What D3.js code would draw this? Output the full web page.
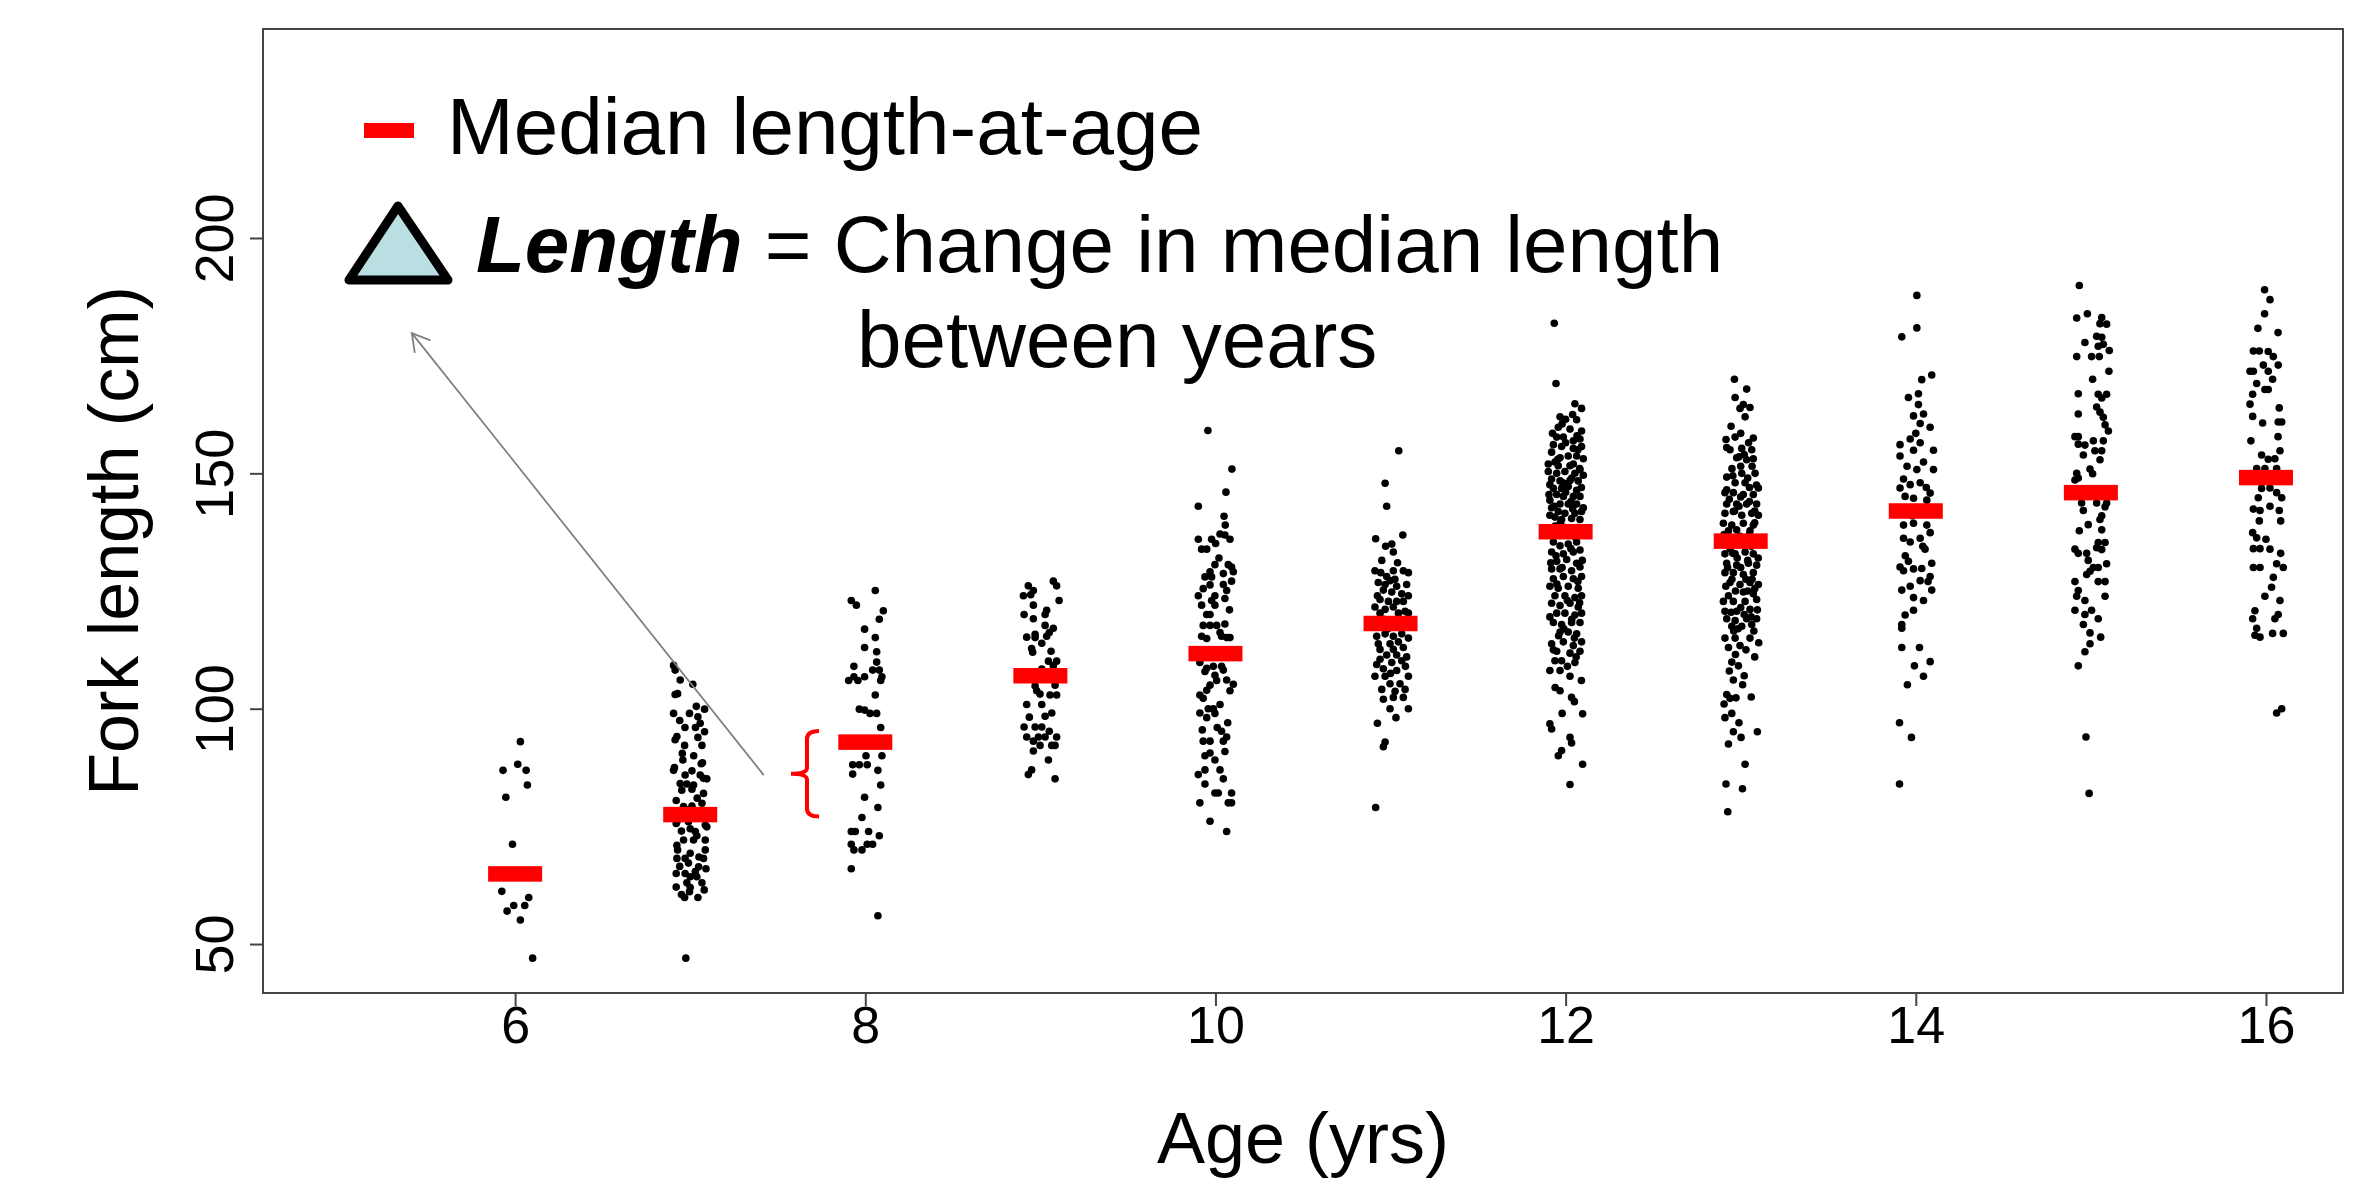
<!DOCTYPE html>
<html>
<head>
<meta charset="utf-8">
<script src="https://cdn.jsdelivr.net/npm/d3@7"></script>
<style>
  html, body { margin: 0; padding: 0; background: #fff; }
  svg { display: block; font-family: "Liberation Sans", Arial, sans-serif; }
</style>
</head>
<body>
<div id="chart"></div>
<script>
// ages and median fork length at each age (cm)
const ages = [6, 7, 8, 9, 10, 11, 12, 13, 14, 15, 16];
const medians = [64.9, 77.5, 92.9, 107.0, 111.7, 118.1, 137.6, 135.6, 142.0, 145.9, 149.1];

// individual fish: [jitter offset (yrs), fork length (cm)]
const pts6 = [[0.03,93.0],[-0.069,86.9],[0.015,88.2],[0.063,86.9],[0.07,83.8],[-0.053,81.2],[-0.015,71.2],[-0.076,61.2],[0.078,59.9],[-0.008,58.2],[0.055,58.2],[-0.046,57.0],[0.03,55.1],[0.10,47.0]];
const pts7 = [[-0.095,109.2],[-0.086,108.2],[-0.057,106.1],[0.015,105.2],[-0.086,103.0],[-0.072,103.2],[-0.095,99.0],[-0.004,99.0],[0.082,99.9],[0.044,98.3],[0.057,96.9],[0.082,95.1],[-0.086,93.4],[-0.076,94.1],[-0.032,92.2],[0.044,93.9],[0.067,92.2],[-0.042,89.1],[0.063,88.3],[-0.095,86.9],[-0.029,85.9],[0.01,86.8],[0.057,85.9],[0.076,85.2],[0.095,85.1],[-0.057,84.1],[-0.019,84.0],[0.019,83.8],[-0.048,82.7],[0.01,82.9],[0.076,82.0],[-0.038,79.2],[0.01,79.3],[0.067,79.9],[-0.076,76.0],[-0.01,76.0],[0.086,75.3],[-0.08,75.6],[0.095,74.9],[0.029,73.9],[0.038,73.0],[-0.038,72.1],[0.019,72.1],[0.086,72.1],[-0.076,71.0],[-0.072,70.0],[0,69.3],[0.086,70.0],[0.076,68.2],[-0.029,68.2],[-0.076,68.2],[-0.01,67.2],[0.048,66.4],[0.029,65.4],[-0.029,65.0],[-0.08,65.0],[0,64.3],[0.038,64.3],[-0.019,63.0],[0.067,63.0],[-0.08,62.1],[-0.004,61.1],[-0.032,59.9],[0.044,59.9],[-0.025,47.0],
  [-0.06,97.5],[0.03,96.0],[-0.045,90.5],[0.02,90.0],[0.07,88.5],[-0.08,80.5],[0.04,81.0],[-0.02,78.5],[0.06,77.0],[-0.05,74.0],[0.0,74.5],[0.05,68.5],[-0.06,66.5],[0.09,66.0],[0.0,62.0],[-0.05,60.5],[0.08,61.5],[-0.09,87.5],[0.035,100.5],[-0.03,96.0]];
const pts8 = [[0.057,125.1],[-0.08,123.0],[-0.051,122.0],[0.103,120.8],[0.08,119.0],[-0.004,116.9],[0.057,115.1],[-0.004,113.0],[0.065,112.1],[0.065,109.9],[-0.065,109.0],[0.042,108.2],[0.08,108.2],[0.095,106.8],[0.088,106.0],[-0.095,106.0],[-0.065,106.8],[-0.042,106.0],[-0.004,106.8],[0.057,102.9],[-0.034,99.9],[-0.004,99.7],[0.027,99.0],[0.065,99.0],[0.088,96.0],[-0.095,93.0],[0.086,93.4],[0.004,90.0],[0.095,90.0],[-0.072,88.1],[-0.034,88.1],[0.011,88.1],[-0.072,86.1],[0.072,86.9],[0.088,83.8],[-0.004,81.2],[0.072,79.0],[-0.019,76.9],[-0.08,73.9],[-0.057,73.9],[0.019,73.9],[0.08,73.0],[-0.08,71.2],[-0.065,70.0],[-0.019,70.0],[0.011,71.2],[0.042,71.2],[-0.08,66.0],[0.072,56.0]];
const pts9 = [[0.074,127.1],[0.093,126.1],[-0.069,126.1],[-0.04,125.1],[-0.097,124.0],[-0.055,124.2],[0.107,123.0],[-0.04,122.0],[0.036,120.9],[-0.093,120.0],[0.027,120.0],[-0.04,119.1],[0.027,117.7],[0.074,117.1],[0.051,116.2],[-0.078,115.2],[-0.03,115.8],[-0.03,115.1],[0.036,115.4],[0.008,113.9],[-0.05,112.8],[-0.044,112.0],[0.061,112.2],[0.046,110.1],[0.093,110.1],[0.074,109.1],[0.008,108.4],[-0.059,106.7],[0.074,107.1],[-0.03,104.8],[-0.021,103.8],[0.084,105.0],[-0.002,103.1],[0.055,102.9],[0.093,102.9],[-0.078,100.9],[0.008,100.9],[0.065,99.1],[0.027,98.4],[-0.063,98.2],[-0.093,96.1],[-0.03,96.1],[0.008,96.1],[0.051,95.2],[-0.078,94.0],[-0.011,94.0],[0.027,94.0],[0.093,94.0],[-0.04,93.1],[-0.002,92.2],[0.065,92.2],[0.084,92.2],[-0.04,91.0],[0.046,89.1],[-0.05,87.0],[-0.069,86.0],[0.084,85.1]];
const pts10 = [[-0.043,159.1],[0.094,150.9],[0.06,146.0],[-0.098,143.0],[0.049,140.9],[0.056,139.0],[-0.098,136.0],[-0.022,136.0],[0.001,135.1],[0.026,137.1],[0.054,136.9],[0.083,136.0],[-0.079,133.9],[-0.05,133.9],[-0.003,130.6],[0.073,130.6],[0.092,130.1],[-0.031,129.1],[0.045,128.7],[-0.06,128.0],[-0.022,128.0],[0.102,129.1],[0.092,127.1],[0.045,126.4],[-0.031,126.3],[0.064,125.1],[-0.098,124.0],[-0.003,124.0],[-0.022,123.0],[0.054,123.4],[-0.079,122.0],[-0.003,122.0],[-0.05,120.0],[-0.031,120.0],[0.054,118.0],[-0.07,117.7],[-0.031,117.7],[0.007,117.7],[0.026,116.2],[0.083,115.1],[-0.079,115.4],[-0.05,114.9],[0.035,115.4],[0.064,115.1],[-0.089,112.0],[0.092,111.3],[-0.089,109.8],[-0.05,108.6],[-0.012,109.0],[0.035,109.0],[-0.06,107.9],[-0.003,107.1],[0.045,108.2],[0.007,106.0],[0.064,106.1],[-0.031,105.0],[0.102,105.2],[0.083,103.8],[-0.089,102.9],[-0.07,102.2],[-0.05,103.9],[-0.041,100.0],[-0.012,100.0],[0.026,100.9],[-0.089,99.1],[-0.05,98.1],[-0.003,99.0],[0.035,95.2],[0.064,94.0],[-0.07,93.1],[-0.031,93.1],[0.045,93.1],[-0.031,90.6],[-0.06,90.0],[-0.003,89.1],[0.054,90.9],[-0.098,86.0],[-0.06,87.0],[0.026,87.0],[0.045,85.1],[-0.06,84.0],[-0.003,82.1],[0.016,82.1],[0.092,82.1],[-0.089,80.0],[0.073,80.0],[0.092,80.0],[-0.031,76.1],[0.064,73.9],
  [0.02,132.0],[-0.07,125.5],[0.08,121.0],[0.03,111.5],[-0.04,111.0],[0.07,97.0],[-0.075,95.5],[0.01,96.0]];
const pts11 = [[0.047,154.8],[-0.031,147.9],[-0.022,143.0],[-0.085,136.1],[0.07,136.9],[-0.028,134.5],[0.007,135.0],[0.016,133.3],[-0.089,129.3],[-0.056,128.9],[-0.022,128.1],[0.016,129.3],[0.073,129.3],[0.102,128.9],[-0.07,126.8],[-0.031,126.4],[-0.003,127.2],[0.035,126.0],[0.092,126.4],[-0.041,125.2],[0.007,124.8],[0.064,124.4],[0.102,124.0],[-0.06,123.2],[-0.012,122.8],[0.035,122.8],[0.073,122.8],[-0.089,121.6],[-0.031,121.1],[0.016,121.6],[0.083,120.7],[-0.06,120.3],[0.045,120.3],[0.102,120.3],[-0.07,118.3],[0.083,117.9],[-0.079,115.4],[-0.031,115.9],[0.016,115.4],[0.064,115.9],[0.102,115.0],[-0.07,113.8],[-0.003,113.8],[0.045,114.2],[-0.06,112.6],[0.016,112.6],[0.073,113.0],[-0.022,111.4],[0.035,111.4],[0.092,111.0],[-0.079,109.4],[0.007,109.8],[0.064,110.2],[-0.041,108.5],[-0.089,106.9],[-0.031,106.9],[0.035,108.1],[0.102,106.9],[-0.003,105.3],[0.054,105.3],[-0.05,104.1],[0.026,103.7],[0.083,104.1],[-0.041,102.0],[0.016,102.4],[0.073,102.4],[-0.003,100.0],[0.102,100.0],[0.031,98.1],[-0.075,96.9],[-0.031,92.9],[-0.041,91.9],[-0.085,79.0],
  [-0.05,131.5],[0.04,131.0],[-0.075,124.0],[0.055,118.5],[-0.015,117.0],[0.085,109.0],[-0.06,110.5],[0.0,107.5],[0.025,127.5],[-0.04,119.0]];
const pts12 = [[-0.065,181.9],[-0.055,169.1],[0.053,164.8],[0.091,163.8],[-0.032,162.0],[0.063,161.4],[-0.042,159.8],[0.025,159.4],[0.091,159.0],[-0.051,157.7],[-0.013,157.7],[0.044,156.9],[0.082,157.3],[-0.07,156.1],[-0.023,155.7],[0.044,155.3],[0.091,155.7],[-0.08,154.5],[-0.032,153.3],[0.015,153.7],[0.063,153.7],[0.101,153.1],[-0.099,152.0],[-0.042,151.6],[0.025,151.6],[0.082,150.8],[-0.099,150.4],[-0.051,150.0],[-0.004,150.4],[0.053,150.0],[0.101,149.6],[-0.08,148.8],[-0.032,148.4],[0.025,148.5],[0.072,148.4],[-0.07,146.8],[-0.023,146.8],[0.015,147.2],[0.063,146.4],[-0.051,145.5],[-0.013,145.1],[0.044,145.1],[0.082,145.1],[-0.09,144.3],[-0.032,143.5],[0.015,143.5],[0.063,143.5],[0.101,142.7],[-0.08,142.7],[-0.042,141.9],[-0.004,141.5],[0.053,141.5],[0.091,141.9],[-0.061,140.7],[-0.023,140.2],[0.034,140.4],[0.082,140.2],[-0.09,141.1],[-0.061,152.4],[0.044,152.0],[0.006,147.6],[-0.09,147.6],[0.03,144.0],[-0.06,138.8],[0.07,138.5],[0.0,146.0],[0.08,151.0],[-0.02,160.5],[0.04,162.5],[-0.08,137.8],[0.082,137.4],[-0.013,138.6],[-0.07,135.4],[-0.032,134.6],[0.015,135.0],[0.063,135.4],[-0.08,133.3],[-0.013,132.9],[0.044,133.3],[0.082,133.7],[-0.051,131.3],[0.006,131.7],[0.063,130.9],[-0.08,129.7],[-0.032,129.7],[0.034,129.3],[0.082,130.1],[-0.07,127.6],[-0.013,128.1],[0.044,127.6],[0.091,128.1],[-0.09,126.0],[-0.042,125.6],[0.015,126.0],[0.072,125.6],[-0.061,124.0],[-0.004,124.0],[0.053,123.6],[0.091,124.0],[-0.08,122.4],[-0.032,121.9],[0.025,122.4],[0.072,121.6],[-0.051,120.3],[-0.004,120.3],[0.053,119.9],[0.091,120.3],[-0.07,118.3],[-0.023,117.9],[0.034,118.3],[0.082,118.3],[-0.032,116.3],[0.015,116.3],[0.063,115.9],[-0.08,113.8],[-0.013,114.2],[0.044,113.4],[0.091,114.2],[-0.051,112.2],[0.025,111.8],[0.082,112.2],[-0.061,110.2],[-0.023,110.2],[0.053,109.8],[-0.09,108.1],[-0.032,108.1],[0.025,106.9],[-0.032,103.8],[0.034,102.4],[0.097,98.9],[-0.09,96.8],[-0.08,95.7],[0.025,93.9],[0.034,92.7],[-0.023,91.1],[-0.042,90.0],[0.097,88.2],[0.025,83.9],
  [-0.075,158.5],[0.0,156.5],[0.07,155.0],[-0.045,153.0],[0.035,149.0],[-0.015,148.0],[0.09,147.0],[-0.065,143.0],[0.04,142.5],[-0.03,139.5],[0.055,136.5],[-0.085,131.0],[0.03,134.0],[-0.02,130.0],[0.07,127.0],[-0.05,126.5],[0.01,123.0],[0.08,122.5],[-0.09,119.5],[0.035,119.0],[-0.04,115.5],[0.06,111.0],[-0.07,112.5],[0.01,109.0],[0.09,106.0],[-0.06,104.5],[0.05,101.5],[-0.02,99.0],[0.0,161.5],[0.065,158.0],[-0.095,145.5],[0.02,138.0],[-0.055,132.5],[0.095,131.5],[-0.01,117.0],[0.05,115.0]];
const pts13 = [[-0.036,170.0],[0.034,167.9],[-0.032,166.1],[0.015,164.6],[0.053,164.0],[-0.004,163.8],[0.025,162.0],[-0.084,157.2],[-0.032,157.7],[0.072,157.5],[-0.061,155.0],[0.006,155.3],[0.063,155.0],[-0.023,153.3],[0.034,152.9],[0.072,153.1],[-0.08,149.2],[0.006,150.0],[0.082,150.0],[-0.032,148.0],[0.025,148.0],[0.101,146.9],[-0.09,145.9],[-0.042,145.9],[0.015,145.5],[0.072,145.5],[-0.08,143.5],[-0.023,143.5],[0.034,143.5],[0.091,143.5],[-0.09,141.5],[-0.042,141.9],[0.006,141.1],[0.063,141.5],[0.101,141.1],[-0.099,139.4],[-0.051,139.0],[0.015,139.4],[0.072,139.0],[-0.07,137.8],[-0.023,138.0],[0.053,137.8],[-0.09,135.8],[0.091,135.4],[-0.004,136.6],[0.0,151.5],[-0.05,151.0],[0.05,147.0],[-0.01,143.0],[0.08,139.5],[-0.06,134.0],[0.04,131.5],[-0.05,127.5],[0.08,125.5],[-0.07,124.0],[0.0,121.5],[0.06,119.5],[-0.04,116.5],[0.02,154.0],[-0.08,146.5],[0.05,137.0],[-0.02,132.0],[0.03,127.5],[-0.09,132.9],[-0.032,132.9],[0.025,133.3],[0.072,132.9],[-0.08,130.9],[-0.023,130.5],[0.044,130.9],[0.091,130.5],[-0.09,128.9],[-0.042,128.9],[0.015,128.5],[0.072,128.9],[-0.061,126.8],[-0.004,126.4],[0.053,126.8],[0.101,126.4],[0.015,124.8],[0.072,124.4],[-0.099,122.8],[-0.042,122.8],[0.025,122.8],[0.091,123.2],[-0.09,120.7],[-0.023,120.7],[0.053,121.1],[-0.08,119.1],[-0.032,118.7],[0.034,119.1],[0.091,119.1],[-0.051,117.5],[0.006,117.5],[0.063,117.9],[-0.09,115.0],[-0.032,115.0],[0.053,115.0],[-0.004,113.4],[0.103,114.0],[-0.051,109.9],[-0.013,109.1],[-0.042,106.1],[0.011,105.1],[-0.08,103.0],[-0.027,102.3],[-0.095,101.0],[-0.061,102.2],[-0.051,99.0],[-0.09,98.1],[-0.042,95.1],[0.002,93.9],[0.095,95.1],[0.025,88.2],[-0.084,84.0],[0.01,83.0],[-0.074,78.1],
  [-0.08,155.5],[-0.01,153.5],[0.065,151.5],[-0.045,149.5],[0.04,149.0],[0.09,147.5],[-0.065,144.5],[0.0,145.0],[0.05,144.0],[-0.035,142.0],[0.08,142.0],[-0.095,137.0],[0.025,136.0],[-0.045,133.0],[0.06,134.5],[0.1,132.0],[-0.075,130.0],[0.0,130.0],[0.065,127.5],[-0.03,125.0],[0.04,125.0],[-0.085,126.0],[0.095,121.0],[-0.055,120.5],[0.02,120.0],[-0.015,117.0],[0.075,116.5],[-0.07,113.0],[0.03,112.5],[0.08,111.0],[-0.03,111.5],[-0.065,108.0],[0.02,107.0],[0.06,102.5],[-0.01,97.0],[-0.07,92.5],[0.045,156.5],[0.0,158.5],[-0.055,160.0]];
const pts14 = [[0.006,187.8],[0.006,180.9],[-0.08,179.0],[0.034,169.9],[0.091,170.9],[-0.042,166.1],[0.015,166.9],[0.015,164.6],[-0.013,162.2],[0.044,162.6],[0.025,160.6],[0.082,159.8],[-0.09,156.1],[-0.032,157.3],[0.025,156.5],[0.101,154.9],[-0.09,153.7],[-0.013,154.9],[0.044,152.4],[-0.07,148.8],[0.006,150.8],[0.101,150.8],[-0.09,146.9],[-0.032,147.6],[0.025,148.0],[0.082,145.8],[-0.061,145.1],[-0.013,144.7],[0.063,144.3],[-0.09,141.9],[0.091,142.3],[-0.05,151.5],[0.06,147.0],[-0.02,141.0],[0.04,134.5],[-0.06,132.5],[0.07,127.0],[0.0,158.5],[-0.07,139.0],[-0.013,139.4],[0.063,139.0],[0.082,137.4],[-0.07,136.2],[-0.032,135.4],[0.025,136.2],[0.053,133.9],[-0.042,131.3],[-0.09,130.1],[-0.013,129.7],[0.034,129.8],[0.091,130.9],[0.082,128.1],[-0.07,129.3],[0.025,127.2],[-0.032,126.0],[-0.08,125.2],[0.091,125.2],[-0.013,123.6],[0.044,123.0],[-0.013,120.9],[-0.061,119.9],[-0.08,117.9],[-0.08,117.1],[-0.08,113.0],[0.021,113.0],[-0.008,109.1],[0.082,110.0],[0.044,106.9],[-0.048,105.1],[-0.093,97.0],[-0.025,93.9],[-0.093,84.0]];
const pts15 = [[-0.066,189.9],[-0.081,183.0],[-0.02,183.9],[0.062,183.1],[0.052,181.8],[0.09,181.7],[0.033,179.1],[0.062,178.9],[-0.034,177.8],[0.042,177.0],[0.071,177.4],[0.105,176.1],[-0.081,174.8],[0.004,174.8],[0.048,174.8],[0.103,171.7],[0.01,170.0],[-0.072,166.9],[0.042,166.8],[0.09,166.8],[0.062,166.0],[-0.072,162.6],[0.033,164.1],[0.052,163.0],[0.071,161.9],[0.1,159.0],[0.081,160.3],[-0.091,157.8],[-0.072,157.8],[-0.072,156.2],[-0.034,156.0],[0.014,156.9],[0.071,156.9],[-0.043,153.9],[0.023,154.8],[0.062,154.8],[0.052,152.9],[-0.005,150.9],[-0.081,150.0],[0.01,149.9],[-0.091,148.6],[-0.072,149.0],[-0.081,145.9],[-0.053,143.7],[0.033,143.7],[0.09,143.7],[-0.043,142.1],[0.062,141.0],[0.081,142.9],[0.052,140.2],[-0.015,139.1],[-0.066,137.8],[0.062,138.0],[0.042,135.3],[0.081,135.3],[0.033,134.2],[0.062,133.8],[-0.091,133.9],[-0.072,133.0],[-0.024,133.0],[-0.015,131.5],[0.014,130.0],[0.042,130.0],[0.09,130.8],[-0.024,128.5],[-0.005,129.2],[-0.091,127.0],[0.042,127.0],[0.081,127.0],[-0.072,125.1],[-0.081,123.9],[-0.034,123.0],[0.081,123.9],[-0.091,120.9],[-0.034,120.0],[0.004,120.9],[0.042,119.1],[-0.043,117.9],[-0.005,116.1],[0.056,115.2],[-0.005,113.8],[-0.034,112.1],[-0.072,109.1],[-0.028,94.0],[-0.01,82.0]];
const pts16 = [[-0.008,189.0],[0.023,186.9],[-0.008,183.9],[-0.046,180.8],[0.069,179.9],[-0.072,176.0],[-0.038,176.0],[0.013,175.9],[0.042,174.8],[-0.015,173.0],[0.07,173.0],[-0.091,171.7],[-0.072,171.7],[0.013,171.7],[0.038,170.0],[-0.053,169.1],[-0.006,167.8],[0.013,167.8],[-0.076,166.8],[-0.091,164.7],[0.076,163.9],[-0.076,162.1],[-0.019,160.7],[0.07,160.9],[0.09,160.9],[-0.086,156.9],[0.069,157.8],[-0.025,153.9],[0.013,153.0],[0.051,153.1],[0.08,154.8],[-0.053,151.0],[-0.006,151.0],[0.061,151.0],[-0.082,149.3],[0.09,149.0],[-0.025,146.8],[0.023,146.9],[0.061,145.9],[0.09,144.8],[-0.044,144.8],[-0.072,142.4],[-0.034,142.1],[0.023,143.0],[0.076,142.1],[-0.038,139.9],[0.084,139.9],[-0.076,137.4],[-0.053,136.3],[0,136.0],[-0.072,134.0],[-0.034,134.0],[0.023,133.9],[0.084,133.0],[0.061,130.8],[-0.072,130.0],[-0.034,130.0],[0.099,130.0],[0.042,127.9],[0.032,125.8],[-0.006,123.9],[0.08,123.0],[-0.063,120.8],[-0.076,119.1],[0.051,119.1],[0.07,120.0],[-0.053,117.1],[-0.034,115.2],[-0.063,115.6],[0.038,116.0],[0.099,116.0],[0.061,99.1],[0.09,100.0]];
const points = [pts6, pts7, pts8, pts9, pts10, pts11, pts12, pts13, pts14, pts15, pts16];

const xTicks = [6, 8, 10, 12, 14, 16];
const yTicks = [50, 100, 150, 200];

const W = 2366, H = 1178;
const plot = { left: 263, right: 2343, top: 29, bottom: 993 };

const svg = d3.select("#chart").append("svg")
  .attr("width", W)
  .attr("height", H);

svg.append("rect").attr("width", W).attr("height", H).attr("fill", "#fff");

const x = d3.scaleLinear().domain([4.56, 16.44]).range([plot.left, plot.right]);
const y = d3.scaleLinear().domain([39.6, 244.4]).range([plot.bottom, plot.top]);

// --- axes ---
const yAxis = svg.append("g")
  .attr("transform", `translate(${plot.left},0)`)
  .call(d3.axisLeft(y).tickValues(yTicks).tickSize(13).tickFormat(d3.format("d")));
yAxis.select(".domain").remove();
yAxis.selectAll("line").attr("stroke", "#444").attr("stroke-width", 2);
yAxis.selectAll("text")
  .attr("transform", "rotate(-90)")
  .attr("x", 0).attr("y", -30).attr("dy", 0)
  .attr("text-anchor", "middle")
  .attr("fill", "#000")
  .style("font-size", "54px")
  .style("font-family", "'Liberation Sans', Arial, sans-serif");

const xAxis = svg.append("g")
  .attr("transform", `translate(0,${plot.bottom})`)
  .call(d3.axisBottom(x).tickValues(xTicks).tickSize(13).tickFormat(d3.format("d")));
xAxis.select(".domain").remove();
xAxis.selectAll("line").attr("stroke", "#444").attr("stroke-width", 2);
xAxis.selectAll("text")
  .attr("y", 50).attr("dy", 0)
  .attr("fill", "#000")
  .style("font-size", "52px")
  .style("font-family", "'Liberation Sans', Arial, sans-serif");

// box around the plot
svg.append("rect")
  .attr("x", plot.left).attr("y", plot.top)
  .attr("width", plot.right - plot.left).attr("height", plot.bottom - plot.top)
  .attr("fill", "none").attr("stroke", "#444").attr("stroke-width", 2);

// axis titles
svg.append("text")
  .attr("transform", `translate(138,541) rotate(-90)`)
  .attr("text-anchor", "middle")
  .style("font-size", "70px")
  .text("Fork length (cm)");

svg.append("text")
  .attr("x", (plot.left + plot.right) / 2).attr("y", 1163)
  .attr("text-anchor", "middle")
  .style("font-size", "72px")
  .text("Age (yrs)");

// --- jittered fish ---
const flat = [];
points.forEach((pts, i) => pts.forEach(p => flat.push({ age: ages[i], off: p[0], len: p[1] })));

svg.append("g").selectAll("circle")
  .data(flat)
  .join("circle")
  .attr("cx", d => x(d.age + d.off))
  .attr("cy", d => y(d.len))
  .attr("r", 3.8)
  .attr("fill", "#000");

// --- median length-at-age bars ---
const barW = 54, barH = 15.5;
svg.append("g").selectAll("rect")
  .data(ages.map((a, i) => ({ age: a, med: medians[i] })))
  .join("rect")
  .attr("x", d => x(d.age) - barW / 2)
  .attr("y", d => y(d.med) - barH / 2)
  .attr("width", barW)
  .attr("height", barH)
  .attr("fill", "#ff0000");

// --- annotation: arrow from bracket to triangle ---
const arrowFrom = [7.42, 85.9], arrowTo = [5.41, 179.8];
const ax0 = x(arrowFrom[0]), ay0 = y(arrowFrom[1]);
const ax1 = x(arrowTo[0]), ay1 = y(arrowTo[1]);
svg.append("line")
  .attr("x1", ax0).attr("y1", ay0).attr("x2", ax1).attr("y2", ay1)
  .attr("stroke", "#808080").attr("stroke-width", 1.8);
const ang = Math.atan2(ay0 - ay1, ax0 - ax1);
const headLen = 20, spread = Math.PI / 6;
svg.append("path")
  .attr("d", `M${ax1 + headLen * Math.cos(ang - spread)},${ay1 + headLen * Math.sin(ang - spread)}
              L${ax1},${ay1}
              L${ax1 + headLen * Math.cos(ang + spread)},${ay1 + headLen * Math.sin(ang + spread)}`)
  .attr("fill", "none").attr("stroke", "#808080").attr("stroke-width", 1.8);

// red curly bracket spanning the step between age 7 and 8 medians
const bx = x(7.667), by0 = y(medians[2]) - 11, by1 = y(medians[1]) + 2;
const bm = (by0 + by1) / 2;
svg.append("path")
  .attr("d", `M${bx + 12},${by0} Q${bx},${by0} ${bx},${by0 + 8}
              L${bx},${bm - 6} Q${bx},${bm} ${bx - 16},${bm}
              Q${bx},${bm} ${bx},${bm + 6}
              L${bx},${by1 - 8} Q${bx},${by1} ${bx + 12},${by1}`)
  .attr("fill", "none").attr("stroke", "#ff0000").attr("stroke-width", 4);

// --- legend ---
const legend = svg.append("g").style("font-size", "80px");
legend.append("rect")
  .attr("x", 364).attr("y", 123).attr("width", 50).attr("height", 15)
  .attr("fill", "#ff0000");
legend.append("text").attr("x", 447).attr("y", 154).text("Median length-at-age");

legend.append("path")
  .attr("d", "M398,206 L349,280 L448,280 Z")
  .attr("fill", "#b9dfe3").attr("stroke", "#000")
  .attr("stroke-width", 9).attr("stroke-linejoin", "round");

const l2 = legend.append("text").attr("x", 476).attr("y", 272);
l2.append("tspan").style("font-weight", "bold").style("font-style", "italic").text("Length");
l2.append("tspan").text(" = Change in median length");
legend.append("text").attr("x", 857).attr("y", 367).text("between years");
</script>
</body>
</html>
